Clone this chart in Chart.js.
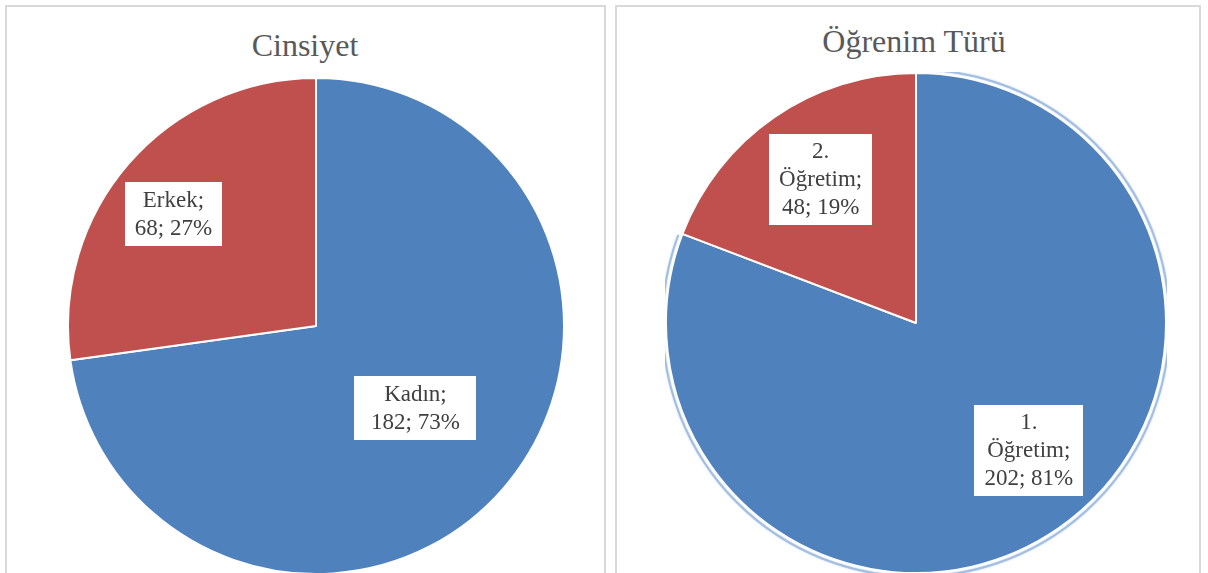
<!DOCTYPE html>
<html>
<head>
<meta charset="utf-8">
<script src="https://cdn.jsdelivr.net/npm/chart.js@4/dist/chart.umd.min.js"></script>
<style>
  html, body { margin:0; padding:0; background:#ffffff; overflow:hidden; }
  body { width:1208px; height:573px; position:relative; }
  .box { position:absolute; top:5px; height:600px; border:2px solid #d9d9d9; box-sizing:border-box; background:#fff; }
  .ttl { position:absolute; font-family:"Liberation Serif","Times New Roman",serif; font-size:32px; line-height:32px; color:#595959; white-space:nowrap; transform:translateX(-50%); }
  canvas { position:absolute; }
</style>
</head>
<body>
<div class="box" style="left:5px;width:601px;"></div>
<div class="box" style="left:615px;width:586px;"></div>
<div class="ttl" id="t1" style="left:305px;top:29px;"></div>
<div class="ttl" id="t2" style="left:914px;top:25px;"></div>
<div style="position:absolute;left:67px;top:77px;width:498px;height:498px;"><canvas id="c1" width="498" height="498"></canvas></div>
<div style="position:absolute;left:665px;top:72px;width:502px;height:502px;"><canvas id="c2" width="502" height="502"></canvas></div>
<script>
// ---- data ----
const genderTitle = 'Cinsiyet';
const genderLabels = ['Kadın', 'Erkek'];
const genderValues = [182, 68];

const studyTitle = 'Öğrenim Türü';
const studyLabels = ['1. Öğretim', '2. Öğretim'];
const studyValues = [202, 48];

const sliceColors = ['#4F81BD', '#C0504D'];

document.getElementById('t1').textContent = genderTitle;
document.getElementById('t2').textContent = studyTitle;

// ---- label plugin ----
const boxLabels = {
  id: 'boxLabels',
  afterDatasetsDraw(chart, args, opts) {
    const ctx = chart.ctx;
    const meta = chart.getDatasetMeta(0);
    const data = chart.data.datasets[0].data;
    const total = data.reduce((a, b) => a + b, 0);
    ctx.save();
    ctx.font = opts.font;
    ctx.textAlign = 'center';
    ctx.textBaseline = 'middle';
    meta.data.forEach((arc, i) => {
      const p = arc.getProps(['x', 'y', 'startAngle', 'endAngle', 'outerRadius'], true);
      const mid = (p.startAngle + p.endAngle) / 2 + (opts.angleShift[i] || 0) * Math.PI / 180;
      const r = p.outerRadius * opts.ratio[i];
      const cx = p.x + Math.cos(mid) * r;
      const cy = p.y + Math.sin(mid) * r;
      const words = chart.data.labels[i].split(' ');
      words[words.length - 1] += ';';
      const v = data[i];
      const lines = words.concat([v + '; ' + Math.round(v / total * 100) + '%']);
      const lh = opts.lineHeight;
      let w = 0;
      lines.forEach(l => { w = Math.max(w, ctx.measureText(l).width); });
      w = Math.max(w + 2 * opts.padX, opts.minWidth[i] || 0);
      const h = lines.length * lh + 2 * opts.padY;
      ctx.fillStyle = '#ffffff';
      ctx.fillRect(Math.round(cx - w / 2), Math.round(cy - h / 2), Math.round(w), Math.round(h));
      ctx.fillStyle = '#404040';
      lines.forEach((l, k) => {
        ctx.fillText(l, cx, cy - h / 2 + opts.padY + lh * (k + 0.5) + 1);
      });
    });
    ctx.restore();
  }
};

// ---- glow/shadow ring for second chart ----
const ringGlow = {
  id: 'ringGlow',
  beforeDatasetsDraw(chart, args, opts) {
    if (!opts.enabled) return;
    const ctx = chart.ctx;
    const arc = chart.getDatasetMeta(0).data[0];
    const p = arc.getProps(['x', 'y', 'startAngle', 'endAngle', 'outerRadius'], true);
    ctx.save();
    ctx.strokeStyle = 'rgba(150,183,222,0.8)';
    ctx.lineWidth = 2;
    ctx.shadowColor = 'rgba(130,168,214,0.7)';
    ctx.shadowBlur = 2;
    ctx.beginPath();
    ctx.arc(p.x, p.y, p.outerRadius + 3.5, p.startAngle, p.endAngle - 0.01);
    ctx.stroke();
    ctx.restore();
  }
};

function makePie(id, labels, values, labelOpts, glow) {
  return new Chart(document.getElementById(id), {
    type: 'pie',
    data: {
      labels: labels,
      datasets: [{
        data: values,
        backgroundColor: sliceColors,
        borderColor: '#ffffff',
        borderWidth: 2
      }]
    },
    options: {
      responsive: false,
      animation: false,
      layout: { padding: 0 },
      plugins: {
        legend: { display: false },
        tooltip: { enabled: false },
        title: { display: false },
        boxLabels: labelOpts,
        ringGlow: { enabled: glow }
      }
    },
    plugins: [ringGlow, boxLabels]
  });
}

makePie('c1', genderLabels, genderValues, {
  font: '23px "Liberation Serif", "Times New Roman", serif',
  lineHeight: 28, padX: 10, padY: 4,
  ratio: [0.52, 0.73], angleShift: [-1.5, -3], minWidth: [122, 97]
}, false);

makePie('c2', studyLabels, studyValues, {
  font: '23px "Liberation Serif", "Times New Roman", serif',
  lineHeight: 28, padX: 10, padY: 3.5,
  ratio: [0.68, 0.69], angleShift: [-7, 1], minWidth: [108, 103]
}, true);
</script>
</body>
</html>
